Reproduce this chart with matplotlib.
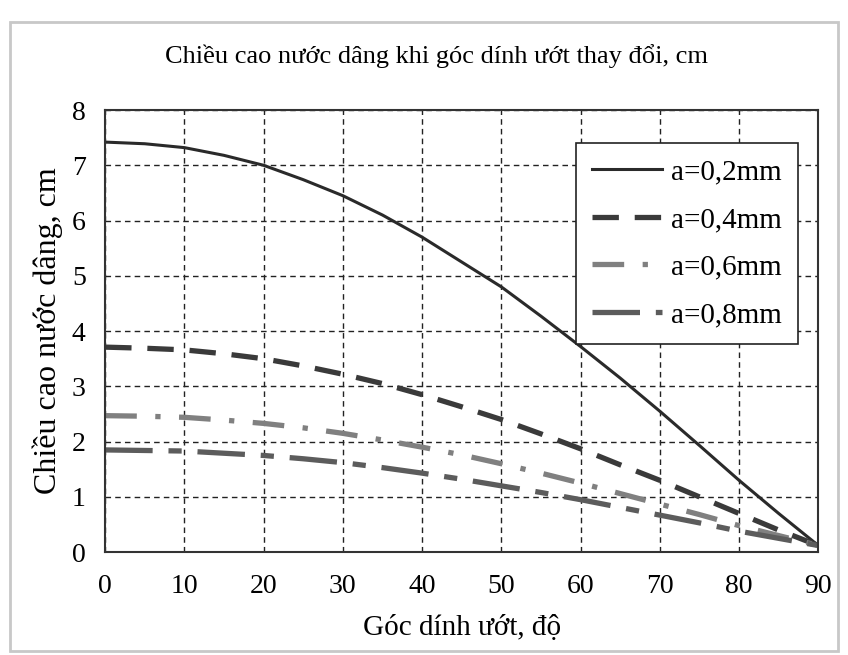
import matplotlib
matplotlib.use("Agg")
import matplotlib.pyplot as plt
from matplotlib.patches import Rectangle

angles = [0, 5, 10, 15, 20, 25, 30, 35, 40, 45, 50, 55, 60, 65, 70, 75, 80, 85, 90]
h_02 = [7.42, 7.39, 7.32, 7.18, 7.00, 6.74, 6.45, 6.10, 5.70, 5.25, 4.80, 4.27, 3.72, 3.15, 2.55, 1.93, 1.30, 0.70, 0.12]
h_04 = [3.71, 3.69, 3.66, 3.59, 3.50, 3.37, 3.22, 3.05, 2.85, 2.63, 2.40, 2.14, 1.87, 1.58, 1.30, 1.00, 0.70, 0.40, 0.12]
h_06 = [2.47, 2.46, 2.44, 2.39, 2.33, 2.25, 2.15, 2.03, 1.90, 1.76, 1.60, 1.43, 1.25, 1.06, 0.87, 0.68, 0.48, 0.30, 0.12]
h_08 = [1.85, 1.84, 1.83, 1.79, 1.75, 1.69, 1.62, 1.53, 1.43, 1.32, 1.20, 1.08, 0.95, 0.81, 0.67, 0.53, 0.38, 0.25, 0.12]
labels = ["a=0,2mm", "a=0,4mm", "a=0,6mm", "a=0,8mm"]
xticks = [0, 10, 20, 30, 40, 50, 60, 70, 80, 90]
yticks = [0, 1, 2, 3, 4, 5, 6, 7, 8]

plt.rcParams['font.family'] = ['Liberation Serif', 'DejaVu Serif']

fig = plt.figure(figsize=(8.48, 6.55), dpi=100)
fig.patches.append(Rectangle((0.012, 0.006), 0.976, 0.961, transform=fig.transFigure,
                             fill=False, edgecolor='#c8c8c8', linewidth=2))
ax = fig.add_axes([0.124, 0.157, 0.841, 0.675])

ax.plot(angles, h_02, color='#2a2a2a', lw=2.2, ls='-', label=labels[0])
ax.plot(angles, h_04, color='#3a3a3a', lw=3.8, ls=(0, (5, 3)), label=labels[1])
ax.plot(angles, h_06, color='#808080', lw=3.8, ls=(0, (6, 3.5, 1, 3.5)), label=labels[2])
ax.plot(angles, h_08, color='#5c5c5c', lw=3.8, ls=(0, (9, 3, 2.5, 3)), label=labels[3])

ax.set_xlim(0, 90)
ax.set_ylim(0, 8)
ax.set_xticks(xticks)
ax.set_yticks(yticks)
ax.tick_params(axis='x', labelsize=20, length=0, pad=16)
ax.tick_params(axis='y', labelsize=20, length=0, pad=14)
ax.grid(True, color='#222222', ls=(0, (4, 3)), lw=1.0)
for s in ax.spines.values():
    s.set_linewidth(1.5)
    s.set_color('#333333')

ax.set_xlabel("Góc dính ướt, độ", fontsize=21, labelpad=11)
ax.set_ylabel("Chiều cao nước dâng, cm", fontsize=23, labelpad=6)
fig.text(0.515, 0.915, "Chiều cao nước dâng khi góc dính ướt thay đổi, cm",
         ha='center', va='center', fontsize=19)

leg = ax.legend(loc='upper right', bbox_to_anchor=(0.992, 0.958), fontsize=21,
                frameon=True, fancybox=False, handlelength=2.4,
                labelspacing=0.72, borderpad=0.55, handletextpad=0.3)
leg.get_frame().set_edgecolor('#222222')
leg.get_frame().set_linewidth(1.2)
leg.get_frame().set_alpha(1)

fig.savefig("out.png", dpi=100)
